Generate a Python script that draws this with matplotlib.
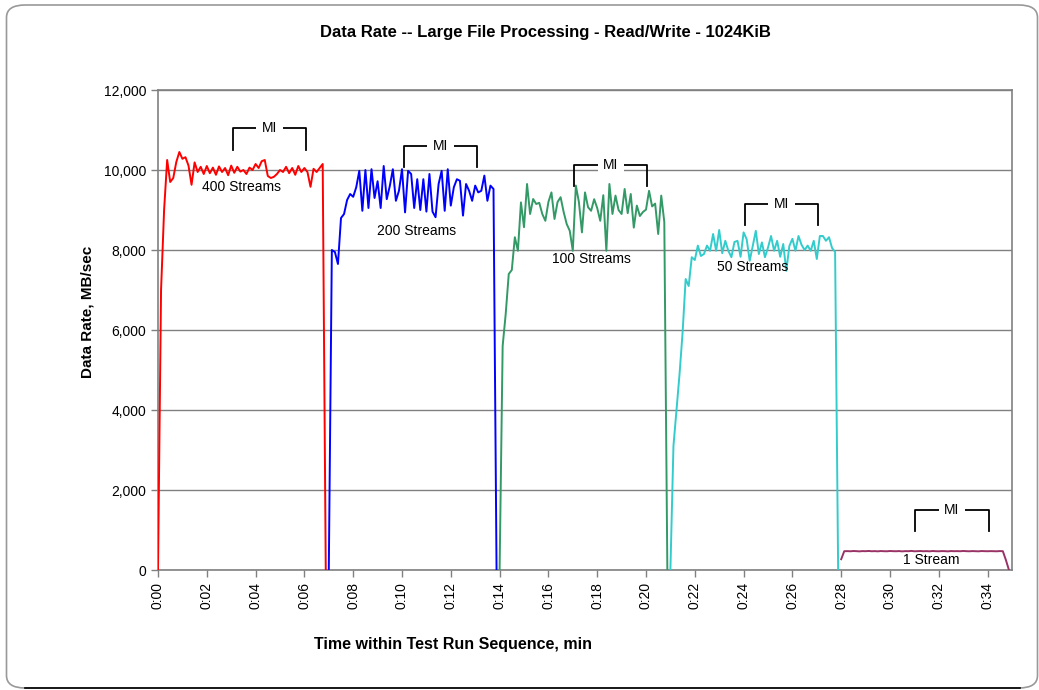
import numpy as np
import matplotlib
matplotlib.use("Agg")
import matplotlib.pyplot as plt
from matplotlib.patches import FancyBboxPatch
from matplotlib.lines import Line2D

plt.rcParams['font.family'] = ['Liberation Sans', 'DejaVu Sans']

# --- Data (MB/sec), one sample every 7.5 s ---
step_min = 0.125

rate_400 = [0, 7000, 9000, 10250, 9700, 9800, 10200, 10450, 10280, 10320,
            10110, 9630, 10190, 9950, 10080, 9900, 10100, 9920, 10060, 9880,
            10090, 9950, 10050, 9870, 10110, 9930, 10080, 9960, 10000, 9900,
            10060, 10000, 10150, 10050, 10220, 10250, 9850, 9800, 9830, 9900,
            10000, 9950, 10080, 9920, 10050, 9880, 10100, 9950, 10050, 9950,
            9580, 10030, 9950, 10050, 10150, 0]

rate_200 = [0, 8000, 7950, 7650, 8800, 8900, 9250, 9400, 9330, 9570,
            9980, 8980, 10000, 9050, 10020, 9300, 9720, 9050, 10100, 9270,
            9600, 10020, 9230, 9480, 10020, 8940, 9980, 9900, 9050, 9770,
            9000, 9770, 8960, 9900, 8960, 8820, 9650, 9980, 8980, 10020,
            9110, 9570, 9770, 9730, 8860, 9650, 9480, 9230, 9610, 9440,
            9480, 9860, 9230, 9610, 9525, 0]

rate_100 = [0, 5600, 6400, 7400, 7500, 8320, 7980, 9190, 8570, 9650,
            8900, 9275, 9150, 9180, 8900, 8730, 9200, 9440, 8775, 9200,
            9320, 8950, 8650, 8480, 7980, 9610, 9200, 8440, 9440, 9070,
            8980, 9270, 9050, 8730, 9370, 7980, 9650, 8900, 9360, 9000,
            8900, 9525, 8920, 9400, 8560, 9110, 8850, 8950, 9010, 9480,
            9090, 9160, 8400, 9360, 8700, 0]

rate_50 = [0, 3100, 4000, 4900, 5940, 7275, 7100, 7820, 7750, 8110,
           7850, 7900, 8110, 7980, 8400, 7980, 8500, 7920, 8230, 7980,
           7820, 8200, 8230, 7830, 8440, 8270, 7730, 8100, 8480, 7900,
           8190, 7820, 8060, 8350, 7980, 8230, 7830, 8150, 7480, 8100,
           8280, 7980, 8350, 8130, 8000, 8110, 7980, 8230, 7775, 8350,
           8350, 8230, 8320, 8050, 7950, 0]

rate_1 = [270, 470, 472, 468, 475, 471, 466, 473, 470, 476,
          469, 472, 467, 474, 470, 468, 475, 471, 469, 473,
          466, 472, 470, 477, 468, 471, 474, 469, 472, 467,
          475, 470, 468, 473, 471, 466, 474, 470, 472, 469,
          476, 471, 468, 473, 470, 467, 474, 471, 469, 472,
          470, 468, 473, 470, 250, 0]

series = [
    ("400 Streams", 0.0, rate_400, "#FF0000"),
    ("200 Streams", 7.0, rate_200, "#0000FF"),
    ("100 Streams", 14.0, rate_100, "#339966"),
    ("50 Streams", 21.0, rate_50, "#33CCCC"),
    ("1 Stream", 28.0, rate_1, "#993366"),
]

# label positions (minutes, MB/sec)
label_t = [3.41, 10.61, 17.77, 24.36, 31.68]
label_v = [9583, 8475, 7775, 7583, 250]

# measurement interval brackets: start minute, top level
mi_start = [3.07, 10.07, 17.06, 24.06, 31.04]
mi_top = [11040, 10600, 10125, 9150, 1500]
mi_len = 3.0
mi_drop = 530

fig = plt.figure(figsize=(10.39, 6.90), dpi=100)
ax = fig.add_axes([158 / 1039, 1 - 570 / 690, (1012 - 158) / 1039, 480 / 690])

for name, t0, vals, col in series:
    t = t0 + np.arange(len(vals)) * step_min
    ax.plot(t, vals, color=col, linewidth=1.4, zorder=3)

for name, tx, vy in zip([s[0] for s in series], label_t, label_v):
    ax.text(tx, vy, name, ha='center', va='center', fontsize=10, color='black', zorder=4)

for x0, top in zip(mi_start, mi_top):
    x1 = x0 + mi_len
    ax.plot([x0, x0, x1, x1], [top - mi_drop, top, top, top - mi_drop],
            color='black', linewidth=1.3, zorder=4)
    ax.text((x0 + x1) / 2, top, "MI", ha='center', va='center', fontsize=10, zorder=5,
            bbox=dict(facecolor='white', edgecolor='none', pad=4))

# --- Formatting ---
ax.set_xlim(0, 35)
ax.set_ylim(0, 12000)
ax.set_yticks(np.arange(0, 12001, 2000))
ax.set_yticklabels([f"{v:,}" for v in range(0, 12001, 2000)], fontsize=10)
xt = np.arange(0, 35, 2)
ax.set_xticks(xt)
ax.set_xticklabels([f"0:{m:02d}" for m in xt], rotation=90, fontsize=10)
ax.grid(axis='y', color='#808080', linewidth=1)
ax.set_axisbelow(True)
for sp in ax.spines.values():
    sp.set_color('#808080')
    sp.set_linewidth(1.2)
ax.tick_params(axis='both', colors='#808080', length=5, width=1, labelcolor='black')

fig.text(453 / 1039, 1 - 644 / 690, "Time within Test Run Sequence, min",
         ha='center', va='center', fontsize=11.5, fontweight='bold')
fig.text(88 / 1039, 1 - 312 / 690, "Data Rate, MB/sec", rotation=90,
         ha='center', va='center', fontsize=11, fontweight='bold')
fig.text(545 / 1039, 1 - 32 / 690, "Data Rate -- Large File Processing - Read/Write - 1024KiB",
         ha='center', va='center', fontsize=12, fontweight='bold')

# rounded chart border
border = FancyBboxPatch((6.5 / 1039, 2 / 690), (1031 / 1039), (683 / 690),
                        boxstyle="round,pad=0,rounding_size=0.018",
                        transform=fig.transFigure, facecolor='none',
                        edgecolor='#999999', linewidth=1.2, zorder=0)
fig.patches.append(border)
fig.add_artist(Line2D([25 / 1039, 1020 / 1039], [2 / 690, 2 / 690],
                      color='black', linewidth=1.2, transform=fig.transFigure))

fig.savefig("out.png", dpi=100)
